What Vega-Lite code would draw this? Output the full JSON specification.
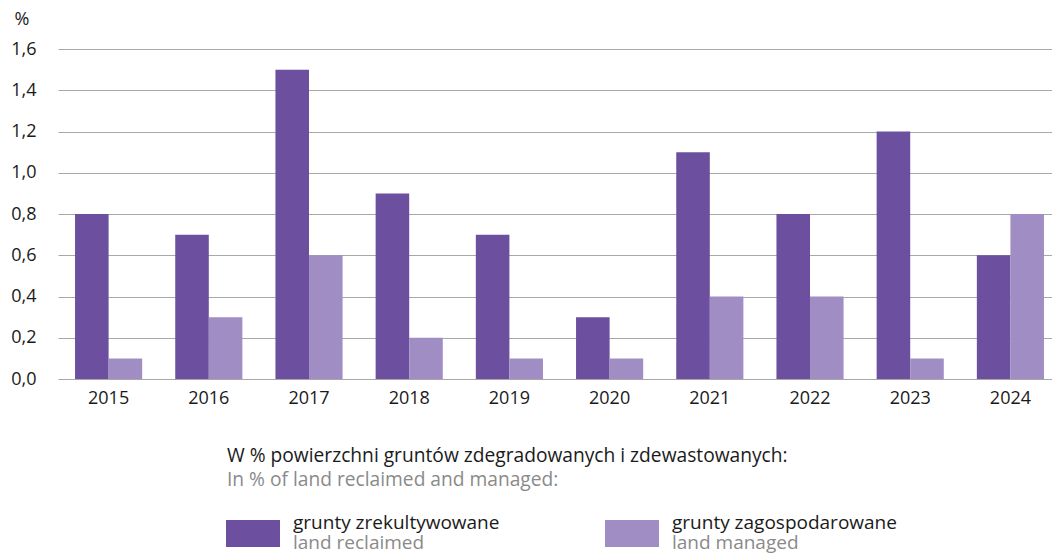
{
  "$schema": "https://vega.github.io/schema/vega-lite/v6.json",
  "padding": {"left": 10, "top": 10, "right": 0, "bottom": 0},
  "spacing": 40,
  "config": {
    "font": "Open Sans",
    "view": {"stroke": null},
    "locale": {"number": {"decimal": ",", "thousands": " ", "grouping": [3], "currency": ["", " zł"]}}
  },
  "datasets": {
    "main": [
      {"rok": "2015", "typ": "grunty zrekultywowane", "wartosc": 0.8},
      {"rok": "2015", "typ": "grunty zagospodarowane", "wartosc": 0.1},
      {"rok": "2016", "typ": "grunty zrekultywowane", "wartosc": 0.7},
      {"rok": "2016", "typ": "grunty zagospodarowane", "wartosc": 0.3},
      {"rok": "2017", "typ": "grunty zrekultywowane", "wartosc": 1.5},
      {"rok": "2017", "typ": "grunty zagospodarowane", "wartosc": 0.6},
      {"rok": "2018", "typ": "grunty zrekultywowane", "wartosc": 0.9},
      {"rok": "2018", "typ": "grunty zagospodarowane", "wartosc": 0.2},
      {"rok": "2019", "typ": "grunty zrekultywowane", "wartosc": 0.7},
      {"rok": "2019", "typ": "grunty zagospodarowane", "wartosc": 0.1},
      {"rok": "2020", "typ": "grunty zrekultywowane", "wartosc": 0.3},
      {"rok": "2020", "typ": "grunty zagospodarowane", "wartosc": 0.1},
      {"rok": "2021", "typ": "grunty zrekultywowane", "wartosc": 1.1},
      {"rok": "2021", "typ": "grunty zagospodarowane", "wartosc": 0.4},
      {"rok": "2022", "typ": "grunty zrekultywowane", "wartosc": 0.8},
      {"rok": "2022", "typ": "grunty zagospodarowane", "wartosc": 0.4},
      {"rok": "2023", "typ": "grunty zrekultywowane", "wartosc": 1.2},
      {"rok": "2023", "typ": "grunty zagospodarowane", "wartosc": 0.1},
      {"rok": "2024", "typ": "grunty zrekultywowane", "wartosc": 0.6},
      {"rok": "2024", "typ": "grunty zagospodarowane", "wartosc": 0.8}
    ],
    "legend": [
      {"typ": "grunty zrekultywowane", "en": "land reclaimed"},
      {"typ": "grunty zagospodarowane", "en": "land managed"}
    ]
  },
  "vconcat": [
    {
      "width": 994,
      "height": 330,
      "data": {"name": "main"},
      "mark": {"type": "bar"},
      "encoding": {
        "x": {
          "field": "rok", "type": "nominal",
          "scale": {"paddingInner": 0.33, "paddingOuter": 0.125, "align": 0.68},
          "axis": {"title": null, "labelAngle": 0, "ticks": false, "domain": false, "labelPadding": 10, "labelFontSize": 18, "labelColor": "#1a1a1a"}
        },
        "xOffset": {
          "field": "typ", "type": "nominal",
          "sort": ["grunty zrekultywowane", "grunty zagospodarowane"],
          "scale": {"paddingInner": 0, "paddingOuter": 0}
        },
        "y": {
          "field": "wartosc", "type": "quantitative",
          "scale": {"domain": [0, 1.6], "nice": false},
          "axis": {
            "title": "%", "titleAngle": 0, "titleAlign": "left", "titleBaseline": "middle",
            "titleX": -44, "titleY": -30, "titleFontSize": 18, "titleFontWeight": "normal", "titleColor": "#1a1a1a",
            "values": [0, 0.2, 0.4, 0.6, 0.8, 1.0, 1.2, 1.4, 1.6],
            "format": ".1f", "ticks": false, "domain": false, "labelPadding": 22,
            "labelFontSize": 18, "labelColor": "#1a1a1a",
            "grid": true, "gridColor": "#a8a8a8", "gridWidth": 1
          }
        },
        "color": {
          "field": "typ", "type": "nominal",
          "scale": {"domain": ["grunty zrekultywowane", "grunty zagospodarowane"], "range": ["#6c4f9f", "#a08dc4"]},
          "legend": null
        }
      }
    },
    {
      "width": 769,
      "height": 27,
      "data": {"name": "legend"},
      "title": {
        "text": "W % powierzchni gruntów zdegradowanych i zdewastowanych:",
        "subtitle": "In % of land reclaimed and managed:",
        "anchor": "start", "frame": "group", "dx": 169, "offset": 23,
        "fontSize": 19.2, "fontWeight": "normal", "color": "#1a1a1a",
        "subtitleFontSize": 19.2, "subtitleColor": "#8a8a8a", "subtitlePadding": 5
      },
      "encoding": {
        "x": {
          "field": "typ", "type": "nominal",
          "sort": ["grunty zrekultywowane", "grunty zagospodarowane"],
          "scale": {"type": "point", "padding": 0.5145},
          "axis": null
        }
      },
      "layer": [
        {
          "mark": {"type": "bar", "width": 54},
          "encoding": {
            "color": {
              "field": "typ", "type": "nominal",
              "scale": {"domain": ["grunty zrekultywowane", "grunty zagospodarowane"], "range": ["#6c4f9f", "#a08dc4"]},
              "legend": null
            }
          }
        },
        {
          "mark": {"type": "text", "align": "left", "baseline": "alphabetic", "dx": 40, "dy": -5, "fontSize": 19, "color": "#1a1a1a"},
          "encoding": {"text": {"field": "typ"}}
        },
        {
          "mark": {"type": "text", "align": "left", "baseline": "alphabetic", "dx": 40, "dy": 15, "fontSize": 19, "color": "#8a8a8a"},
          "encoding": {"text": {"field": "en"}}
        }
      ]
    }
  ]
}
